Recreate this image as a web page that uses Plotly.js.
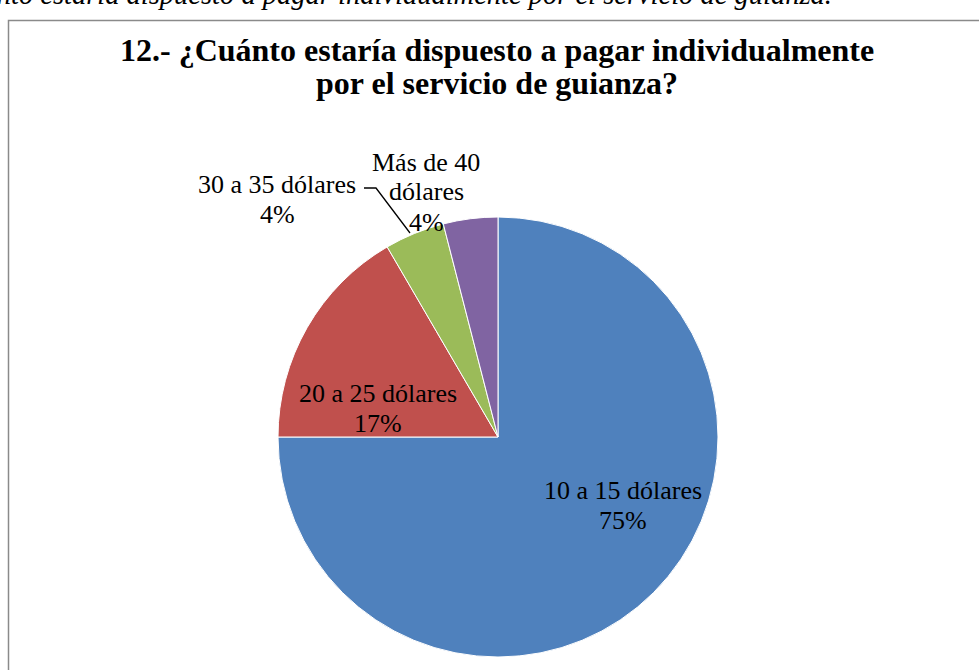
<!DOCTYPE html>
<html>
<head>
<meta charset="utf-8">
<script src="https://cdn.plot.ly/plotly-3.0.1.min.js"></script>
<style>html,body{margin:0;padding:0;background:#fff;}#chart{width:979px;height:670px;}</style>
</head>
<body>
<div id="chart"></div>
<script>
// ---- data ----
const categories = ['10 a 15 dólares', '20 a 25 dólares', '30 a 35 dólares', 'Más de 40 dólares'];
const values = [75.0, 16.6, 4.4, 4.0];
const colors = ['#4F81BD', '#C0504D', '#9BBB59', '#8064A2'];
const titleLines = ['12.- ¿Cuánto estaría dispuesto a pagar individualmente', 'por el servicio de guianza?'];
const captionText = '¿Cuánto estaría dispuesto a pagar individualmente por el servicio de guianza.';

// ---- layout geometry (pixels) ----
const W = 979, H = 670;
const L = 278, T = 217, D = 440;
const px = x => (x - L) / D;
const py = y => (T + D - y) / D;
const SERIF = "'Liberation Serif', 'Times New Roman', Times, serif";

const labelPos = [[623, 490], [378, 393], [277, 184], [426, 162]];
const lineStep = 30;
const total = values.reduce((a, b) => a + b, 0);

const annotations = [];
categories.forEach((cat, i) => {
  let lines = [cat];
  if (cat.length > 16) { const k = cat.lastIndexOf(' '); lines = [cat.slice(0, k), cat.slice(k + 1)]; }
  lines.push(Math.round(values[i] / total * 100) + '%');
  lines.forEach((t, j) => {
    annotations.push({
      text: t, xref: 'paper', yref: 'paper',
      x: px(labelPos[i][0]), y: py(labelPos[i][1] + j * lineStep),
      xanchor: 'center', yanchor: 'middle', showarrow: false,
      font: {family: SERIF, size: 26, color: '#000'}
    });
  });
});
titleLines.forEach((t, j) => {
  annotations.push({
    text: '<b>' + t + '</b>', xref: 'paper', yref: 'paper',
    x: px(497), y: py(50 + j * 33), xanchor: 'center', yanchor: 'middle', showarrow: false,
    font: {family: SERIF, size: 32, color: '#000'}
  });
});
annotations.push({
  text: '<i>' + captionText + '</i>', xref: 'paper', yref: 'paper',
  x: px(834), y: py(-5), xanchor: 'right', yanchor: 'middle', showarrow: false,
  font: {family: SERIF, size: 28.5, color: '#000'}
});

const shapes = [
  {type: 'rect', xref: 'paper', yref: 'paper', x0: px(8.5), x1: px(1000), y0: py(700), y1: py(20.5),
   line: {color: '#8a8a8a', width: 1.5}, fillcolor: 'rgba(0,0,0,0)'},
  {type: 'path', xref: 'paper', yref: 'paper',
   path: 'M ' + px(364) + ',' + py(188) + ' L ' + px(376) + ',' + py(188) + ' L ' + px(410) + ',' + py(233),
   line: {color: '#000', width: 1.3}}
];

Plotly.newPlot('chart', [{
  type: 'pie', labels: categories, values: values, sort: false, direction: 'clockwise', rotation: 0,
  marker: {colors: colors, line: {color: '#ffffff', width: 1}},
  textinfo: 'none', hoverinfo: 'label+percent'
}], {
  width: W, height: H, margin: {l: L, r: W - L - D, t: T, b: H - T - D},
  paper_bgcolor: '#fff', showlegend: false, annotations: annotations, shapes: shapes
}, {staticPlot: true});
</script>
</body>
</html>
